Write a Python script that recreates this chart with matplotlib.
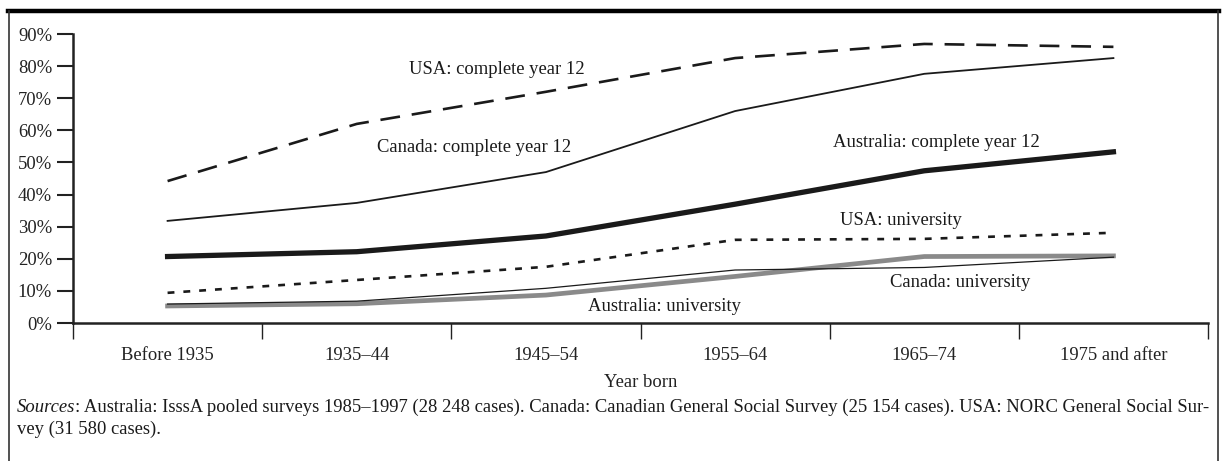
import matplotlib
matplotlib.use("Agg")
import matplotlib.pyplot as plt
from matplotlib.lines import Line2D
import numpy as np

plt.rcParams['font.family'] = ['Liberation Serif', 'DejaVu Serif']

categories = ["Before 1935", "1935–44", "1945–54", "1955–64", "1965–74", "1975 and after"]
usa_year12 = [44.2, 62.0, 72.0, 82.5, 86.9, 86.0]
canada_year12 = [31.8, 37.4, 47.0, 66.0, 77.6, 82.5]
australia_year12 = [20.7, 22.2, 27.1, 37.0, 47.4, 53.3]
usa_university = [9.4, 13.4, 17.5, 25.9, 26.2, 28.1]
canada_university = [5.9, 6.8, 10.8, 16.5, 17.3, 20.5]
australia_university = [5.3, 6.0, 8.7, 14.5, 20.7, 20.9]
yticks = [0, 10, 20, 30, 40, 50, 60, 70, 80, 90]

FS = 13.4
W, H = 1222, 461
fig = plt.figure(figsize=(W / 100, H / 100), dpi=100)

def fx(px):
    return px / W

def fy(py):
    return 1 - py / H

ax = fig.add_axes([fx(73), fy(323), fx(1208) - fx(73), fy(34) - fy(323)])

x = np.arange(len(categories)) + 0.5
ax.plot(x, usa_year12, color='#1a1a1a', lw=1.9, dashes=(7.5, 4.5), solid_capstyle='butt')
ax.plot(x, canada_year12, color='#1a1a1a', lw=1.3)
ax.plot(x, australia_year12, color='#1a1a1a', lw=3.8)
ax.plot(x, australia_university, color='#8a8a8a', lw=3.4)
ax.plot(x, canada_university, color='#1a1a1a', lw=0.9)
ax.plot(x, usa_university, color='#1a1a1a', lw=1.9, dashes=(2.6, 3.4))

ax.set_xlim(0, len(categories))
ax.set_ylim(0, 90)
ax.set_yticks(yticks)
ax.set_yticklabels([f"{v}%" for v in yticks], fontsize=FS, color='#222222')
ax.set_xticks(np.arange(len(categories) + 1))
ax.set_xticklabels([])
ax.set_xticks(x, minor=True)
ax.set_xticklabels(categories, minor=True, fontsize=FS, color='#222222')
ax.tick_params(axis='y', direction='out', length=11.5, width=1.5, pad=3.6, color='#222222')
ax.tick_params(axis='x', which='major', direction='out', length=11.5, width=1.0, color='#222222')
ax.tick_params(axis='x', which='minor', length=0, pad=17.6)
for s in ['top', 'right']:
    ax.spines[s].set_visible(False)
for s in ['left', 'bottom']:
    ax.spines[s].set_linewidth(1.8)
    ax.spines[s].set_color('#222222')

fig.text(fx(641), fy(382), "Year born", fontsize=FS, color='#222222', ha='center', va='center')

lbl = dict(fontsize=FS, color='#1a1a1a', ha='center', va='center')
ax.text(2.239, 78.8, "USA: complete year 12", **lbl)
ax.text(2.120, 54.7, "Canada: complete year 12", **lbl)
ax.text(4.562, 56.1, "Australia: complete year 12", **lbl)
ax.text(4.377, 31.9, "USA: university", **lbl)
ax.text(4.689, 12.6, "Canada: university", **lbl)
ax.text(3.129, 5.1, "Australia: university", **lbl)

# frame
fig.add_artist(Line2D([fx(8), fx(1219)], [fy(11.5), fy(11.5)], color='black', lw=3.2, transform=fig.transFigure))
fig.add_artist(Line2D([fx(9), fx(9)], [fy(11), fy(461)], color='#333333', lw=1.2, transform=fig.transFigure))
fig.add_artist(Line2D([fx(1218), fx(1218)], [fy(11), fy(461)], color='#333333', lw=1.2, transform=fig.transFigure))

# sources
t1 = fig.text(fx(17), fy(407), "Sources", fontsize=FS, style='italic', color='#1a1a1a', va='center', ha='left')
fig.canvas.draw()
bb = t1.get_window_extent(renderer=fig.canvas.get_renderer())
fig.text(bb.x1 / W, fy(407), ": Australia: IsssA pooled surveys 1985–1997 (28 248 cases). Canada: Canadian General Social Survey (25 154 cases). USA: NORC General Social Sur-",
         fontsize=FS, color='#1a1a1a', va='center', ha='left')
fig.text(fx(17), fy(429), "vey (31 580 cases).", fontsize=FS, color='#1a1a1a', va='center', ha='left')

fig.savefig("out.png", dpi=100)
